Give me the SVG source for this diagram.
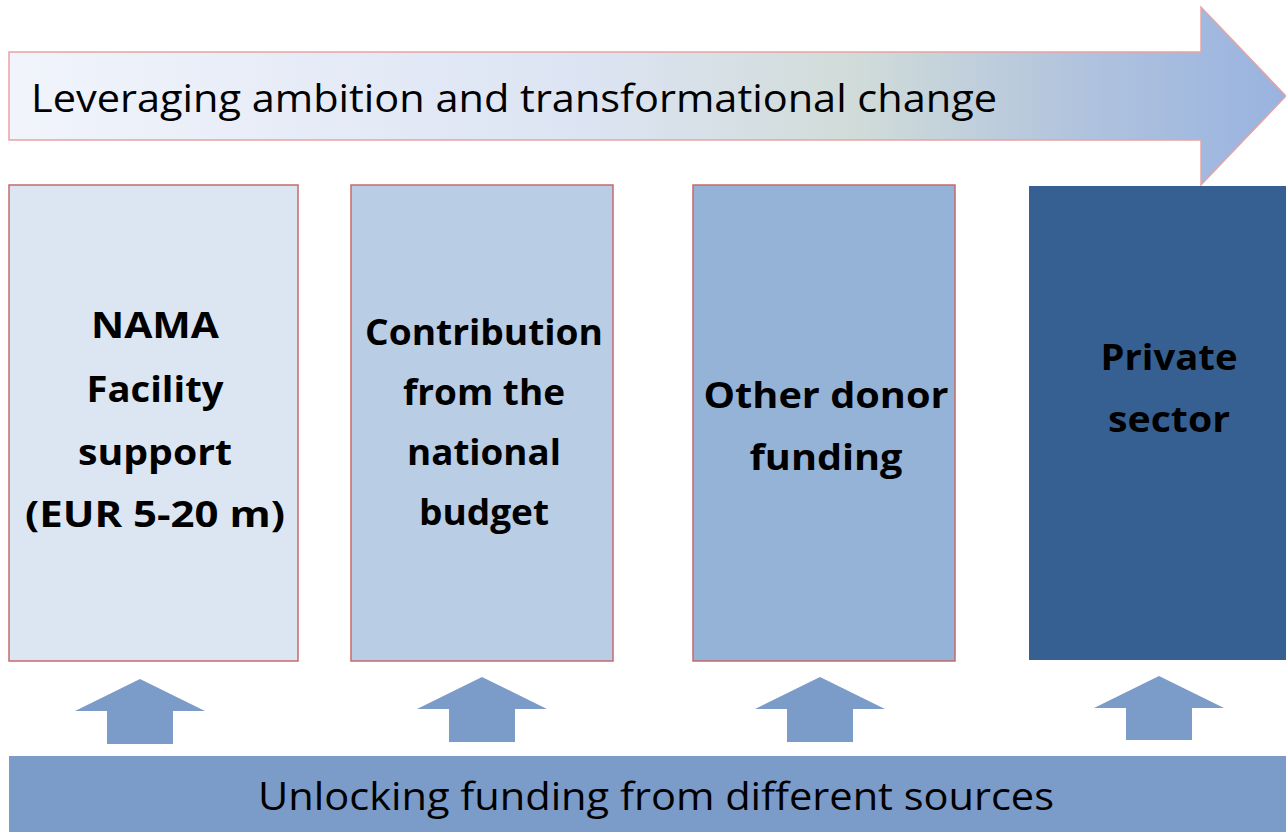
<svg xmlns="http://www.w3.org/2000/svg" width="1286" height="832" viewBox="0 0 1286 832">
<defs>
<linearGradient id="g" x1="0" y1="0" x2="1" y2="0">
<stop offset="0" stop-color="#F1F4FB"/>
<stop offset="0.45" stop-color="#DCE4F3"/>
<stop offset="0.66" stop-color="#D1DCD9"/>
<stop offset="0.85" stop-color="#AFC2DE"/>
<stop offset="1" stop-color="#99B3E0"/>
</linearGradient>
<style>
.box{stroke:#C66A6A;stroke-width:1.5}
.t{font-family:"Open Sans","Liberation Sans",sans-serif;fill:#000}
.b{font-weight:bold;font-size:36px;text-anchor:middle}
.up{fill:#7B9BC8}
</style>
</defs>
<g id="top-arrow">
<path d="M9,52 H1201 V7 L1286,96 L1201,185 V140 H9 Z" fill="url(#g)" stroke="#E8A3A3" stroke-width="1.5"/>
<text class="t" x="31" y="112" font-size="38" textLength="966" lengthAdjust="spacingAndGlyphs">Leveraging ambition and transformational change</text>
</g>
<g id="box1">
<rect class="box" x="9" y="185" width="289" height="476" fill="#DCE6F2"/>
<text class="t b" x="155" y="338" textLength="128" lengthAdjust="spacingAndGlyphs">NAMA</text>
<text class="t b" x="155" y="402" textLength="137" lengthAdjust="spacingAndGlyphs">Facility</text>
<text class="t b" x="155" y="465" textLength="154" lengthAdjust="spacingAndGlyphs">support</text>
<text class="t b" x="155" y="527" textLength="260" lengthAdjust="spacingAndGlyphs">(EUR 5-20 m)</text>
</g>
<g id="box2">
<rect class="box" x="351" y="185" width="262" height="476" fill="#B9CDE5"/>
<text class="t b" x="484" y="345" textLength="238" lengthAdjust="spacingAndGlyphs">Contribution</text>
<text class="t b" x="484" y="405" textLength="162" lengthAdjust="spacingAndGlyphs">from the</text>
<text class="t b" x="484" y="465" textLength="154" lengthAdjust="spacingAndGlyphs">national</text>
<text class="t b" x="484" y="525" textLength="130" lengthAdjust="spacingAndGlyphs">budget</text>
</g>
<g id="box3">
<rect class="box" x="693" y="185" width="262" height="476" fill="#95B3D7"/>
<text class="t b" x="826" y="408" textLength="245" lengthAdjust="spacingAndGlyphs">Other donor</text>
<text class="t b" x="826" y="470" textLength="153" lengthAdjust="spacingAndGlyphs">funding</text>
</g>
<g id="box4">
<rect x="1029" y="186" width="257" height="474" fill="#366092"/>
<text class="t b" x="1169" y="370" textLength="137" lengthAdjust="spacingAndGlyphs">Private</text>
<text class="t b" x="1169" y="432" textLength="122" lengthAdjust="spacingAndGlyphs">sector</text>
</g>
<g id="connectors">
<path class="up" d="M140,679 L205,711 H173 V744 H107 V711 H75 Z"/>
<path class="up" d="M482,677 L547,709 H515 V742 H449 V709 H417 Z"/>
<path class="up" d="M820,677 L885,709 H853 V742 H787 V709 H755 Z"/>
<path class="up" d="M1159,676 L1224,708 H1192 V740 H1126 V708 H1094 Z"/>
</g>
<g id="bottom-bar">
<rect x="9" y="756" width="1277" height="76" fill="#7B9BC8"/>
<text class="t" x="656" y="810" font-size="38" text-anchor="middle" textLength="796" lengthAdjust="spacingAndGlyphs">Unlocking funding from different sources</text>
</g>
</svg>
